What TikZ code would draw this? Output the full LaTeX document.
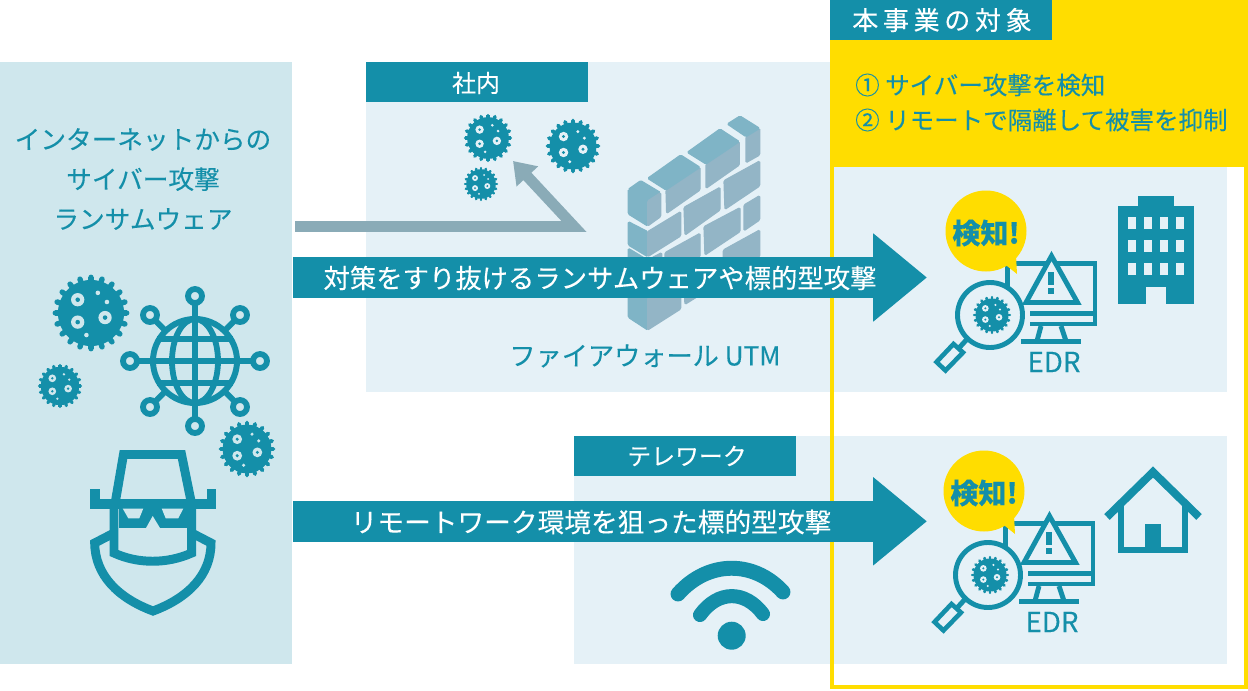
\documentclass[tikz,border=0pt]{standalone}
\usepackage{fontspec}
\setmainfont{Noto Sans CJK JP}[FakeBold=0.12]
\usetikzlibrary{arrows.meta}

\definecolor{teal}{HTML}{148FA9}
\definecolor{sidepanel}{HTML}{CFE7ED}
\definecolor{zonepanel}{HTML}{E5F1F7}
\definecolor{signal}{HTML}{FFDD00}
\definecolor{graypath}{HTML}{8AABB7}
\definecolor{brickfront}{HTML}{93B5C6}
\definecolor{bricktop}{HTML}{7FB4C6}

\tikzset{
    bandtext/.style={text=white,font=\fontsize{15}{18}\selectfont},
    tagtext/.style={text=white,font=\fontsize{13.6}{16}\selectfont},
    zonetext/.style={text=teal,font=\fontsize{14.6}{22.7}\selectfont,align=center},
    edrtext/.style={text=teal,font=\fontsize{15.8}{18}\selectfont},
    goaltext/.style={text=teal,anchor=west,font=\fontsize{13.95}{16}\selectfont},
    bigarrow/.style={teal,line width=23.2pt,-{Triangle[length=30.6pt,width=48.2pt]}},
    brick/.style={fill=brickfront,draw=brickfront,line width=0.7pt,rounded corners=0.7pt},
    bricklid/.style={fill=bricktop,draw=bricktop,line width=0.7pt,rounded corners=0.7pt},
    virus/.pic={
        \foreach \a in {0,18,...,342}{
            \fill[teal,rotate=\a] (-.07,-.94) rectangle (.07,-.8);
            \fill[teal,rotate=\a] (0,-.94) circle (.07);
        }
        \fill[teal] (0,0) circle (.87);
        \foreach \x/\y in {-.35/-.35,-.35/.24,.37/.12}{
            \fill[#1] (\x,\y) circle (.175);
            \fill[teal] (\x,\y) circle (.06);
        }
        \foreach \x/\y in {.18/-.53,.42/-.29,-.12/.58}{
            \fill[#1] (\x,\y) circle (.06);
        }
    },
    edricon/.pic={
        % monitor
        \draw[teal,line width=2.8pt] (1007.5,300)--(1007.5,263.5)--(1095,263.5)--(1095,324)--(1030,324);
        \draw[teal,line width=2.8pt] (1030,313.3)--(1095,313.3);
        \draw[teal,line width=2.8pt] (1041,326)--(1037,341);
        \draw[teal,line width=2.8pt] (1061,326)--(1066,341);
        \draw[teal,line width=2.8pt] (1021,341.5)--(1081,341.5);
        % warning
        \draw[teal,fill=zonepanel,line width=2.8pt] (1051.5,256)--(1077.5,302.5)--(1026,302.5)--cycle;
        \fill[teal] (1048,272.3) rectangle (1054,285);
        \fill[teal] (1048,288.3) rectangle (1054,294.3);
        % lens
        \draw[teal,fill=zonepanel,line width=2.6pt] (936.5,362)--(953.5,344)--(963,352.5)--(945.5,370.5)--cycle;
        \draw[teal,line width=2.8pt] (959,348)--(969,337);
        \draw[teal,fill=zonepanel,line width=2.8pt] (990,315) circle (32.5);
        \pic[scale=19] at (992,315) {virus=zonepanel};
        % bubble
        \fill[signal] (986,231) circle (40.5);
        \fill[signal] (1002,262)--(1016,255)--(1017,274)--cycle;
        \node[text=teal,font=\fontsize{16}{18}\selectfont\bfseries] (-alert) at (986,233) {検知!};
        \node[edrtext] (-name) at (1054,362) {EDR};
    }
}

\begin{document}
\begin{tikzpicture}[x=0.02cm,y=-0.02cm]
    \useasboundingbox (0,0) rectangle (1248,690);

    % panels
    \fill[sidepanel] (0,62) rectangle (292,664);
    \fill[zonepanel] (366,62) rectangle (1227,392);
    \fill[zonepanel] (574,436) rectangle (1227,664);

    % target zone
    \fill[signal] (830,0) rectangle (1248,167);
    \draw[signal,line width=2pt] (832,1.8) rectangle (1246.2,687.2);

    % wall
    \begin{scope}[shift={(610,110)},x=0.02cm/3,y=-0.02cm/3]
        \filldraw[bricklid] (55,335)--(113,365)--(113,440)--(55,405)--cycle;
        \filldraw[bricklid] (55,415)--(113,450)--(113,522)--(55,488)--cycle;
        \filldraw[bricklid] (55,530)--(113,565)--(113,660)--(55,622)--cycle;
        \filldraw[brick] (113,565)--(212,505)--(212,597)--(113,660)--cycle;
        \filldraw[brick] (222,530)--(270,500)--(270,555)--(225,583)--cycle;
        \filldraw[brick] (113,450)--(155,428)--(155,495)--(113,522)--cycle;
        \filldraw[brick] (113,365)--(212,305)--(212,378)--(113,440)--cycle;
        \filldraw[brick] (222,292)--(330,232)--(330,300)--(225,375)--cycle;
        \filldraw[brick] (342,212)--(449,153)--(449,228)--(345,298)--cycle;
        \filldraw[brick] (165,428)--(270,370)--(270,440)--(165,505)--cycle;
        \filldraw[brick] (282,350)--(390,293)--(390,365)--(285,435)--cycle;
        \filldraw[brick] (402,285)--(449,257)--(449,330)--(402,362)--cycle;
        \filldraw[brick] (340,420)--(449,360)--(449,440)--(340,510)--cycle;
        % top course
        \filldraw[bricklid] (55,238)--(92,212)--(152,248)--(113,273)--cycle;
        \filldraw[bricklid] (55,238)--(113,273)--(113,348)--(55,312)--cycle;
        \filldraw[brick] (113,273)--(152,248)--(152,320)--(113,348)--cycle;
        \filldraw[brick] (168,240)--(270,172)--(270,240)--(170,310)--cycle;
        \filldraw[bricklid] (113,205)--(212,135)--(270,172)--(168,240)--cycle;
        \filldraw[brick] (288,162)--(388,95)--(388,165)--(288,235)--cycle;
        \filldraw[bricklid] (232,127)--(330,57)--(388,95)--(288,162)--cycle;
        \filldraw[brick] (408,80)--(449,55)--(449,135)--(408,158)--cycle;
        \filldraw[bricklid] (352,42)--(390,18)--(449,55)--(408,80)--cycle;
    \end{scope}

    % blocked path
    \coordinate (gatein) at (295,226.5);
    \coordinate (gatebend) at (574,226.5);
    \coordinate (gateout) at (513,161);
    \draw[graypath,line width=6.2pt,-{Triangle[length=12pt,width=16pt]}] (gatein)--(gatebend)--(gateout);

    % arrows
    \coordinate (bandAin) at (293,277.5);
    \coordinate (bandAout) at (927,277.5);
    \coordinate (bandBin) at (293,521.3);
    \coordinate (bandBout) at (927,521.3);
    \draw[bigarrow] (bandAin)--(bandAout);
    \draw[bigarrow] (bandBin)--(bandBout);
    \node[bandtext] (bandA) at (600,278) {対策をすり抜けるランサムウェアや標的型攻撃};
    \node[bandtext,font=\fontsize{15.2}{18}\selectfont] (bandB) at (591,522) {リモートワーク環境を狙った標的型攻撃};

    % tags
    \fill[teal] (830,0) rectangle (1052,40);
    \fill[teal] (366,62) rectangle (588,102);
    \fill[teal] (574,436) rectangle (796,476);
    \node[text=white,font=\fontsize{14.8}{16}\selectfont\addfontfeature{LetterSpace=18}] (scope) at (942,20) {本事業の対象};
    \node[tagtext] (office) at (476,83) {社内};
    \node[tagtext] (telework) at (687,456) {テレワーク};

    \node[goaltext] (goalA) at (849,85) {① サイバー攻撃を検知};
    \node[goaltext] (goalB) at (849,120) {② リモートで隔離して被害を抑制};
    \node[zonetext] (threat) at (143,179) {インターネットからの\\サイバー攻撃\\ランサムウェア};
    \node[zonetext,font=\fontsize{14.9}{18}\selectfont] (wall) at (645,356) {ファイアウォール UTM};

    % viruses
    \foreach \x/\y/\r/\bg in {91/313/38/sidepanel,60/386/22/sidepanel,247/449/28/sidepanel,
        488/138/24/zonepanel,573/146/27/zonepanel,481/184/17/zonepanel}{
        \pic[scale=\r] at (\x,\y) {virus=\bg};
    }

    % globe
    \foreach \x/\y in {130/361,260/361,195/296,195/426,150/315,240/315,150/407,240/407}{
        \draw[teal,line width=3.3pt] (195,361)--(\x,\y);
        \draw[teal,fill=sidepanel,line width=3.3pt] (\x,\y) circle (7);
    }
    \draw[teal,fill=sidepanel,line width=3.4pt] (195,361) circle (42);
    \draw[teal,line width=3.3pt] (195,319)--(195,403);
    \draw[teal,line width=3.3pt] (195,361) ellipse (23 and 42);
    \draw[teal,line width=3.3pt] (157,339)--(233,339);
    \draw[teal,line width=3.3pt] (153,361)--(237,361);
    \draw[teal,line width=3.3pt] (157,383)--(233,383);

    % attacker
    \draw[teal,line width=5.1pt] (115.5,501)--(123.5,454.5)--(181.5,454.5)--(191,501);
    \fill[teal] (90,499.3) rectangle (216,508.5);
    \fill[teal] (90,489) rectangle (99.5,500);
    \fill[teal] (206.7,489) rectangle (216,500);
    \draw[teal,line width=5.1pt] (114,505)--(114,553) .. controls (138,564) and (167,564) .. (191.7,553)--(191.7,505);
    \fill[teal] (119,508) rectangle (187,528);
    \fill[sidepanel] (122.7,508.5)--(143.3,508.5)--(139.3,518.3)--(128.3,518.3)--cycle;
    \fill[sidepanel] (161.7,508.5)--(183.3,508.5)--(178.3,518.3)--(165.7,518.3)--cycle;
    \fill[sidepanel] (152.7,516)--(146,528)--(160,528)--cycle;
    \draw[teal,line width=5.1pt] (114,533)--(94.7,543) .. controls (95,575) and (118,598) .. (153,611)
        .. controls (188,598) and (211,575) .. (211,543)--(191.7,533);

    % edr
    \pic (edrA) at (0,0) {edricon};
    \pic (edrB) at (-2,260) {edricon};

    % building
    \fill[teal] (1138,196) rectangle (1174,206);
    \fill[teal] (1118,205.7) rectangle (1194,304);
    \foreach \x in {1127.7,1144,1160,1176}{
        \foreach \y in {217.3,240.3,263.3}{
            \fill[zonepanel] (\x,\y) rectangle (\x+8,\y+11.4);
        }
    }
    \fill[zonepanel] (1145.7,286.7) rectangle (1166.3,304);

    % house
    \draw[teal,line width=4.5pt] (1107,517)--(1153,472)--(1199,517);
    \draw[teal,line width=3.8pt] (1121,505)--(1121,550)--(1185,550)--(1185,505);
    \fill[teal] (1144.7,524) rectangle (1161.3,550);

    % wifi
    \draw[teal,line width=8.5pt,line cap=round] (678,594) .. controls (708,560) and (754,560) .. (783,592);
    \draw[teal,line width=8pt,line cap=round] (700,615) .. controls (718,590) and (745,590) .. (763,614);
    \fill[teal] (731.7,635.7) circle (14);
\end{tikzpicture}
\end{document}
